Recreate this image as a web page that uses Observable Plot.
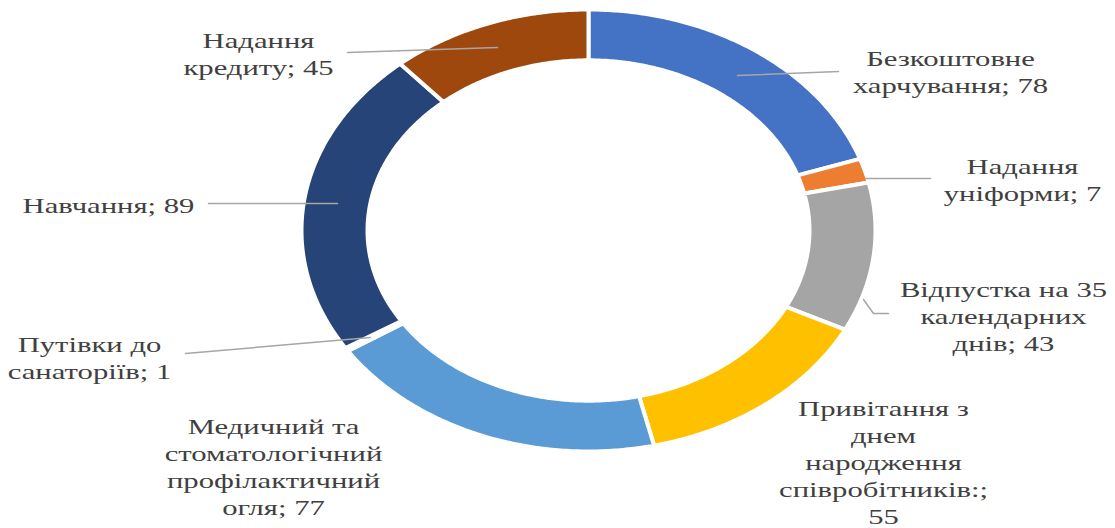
<!DOCTYPE html>
<html>
<head>
<meta charset="utf-8">
<script src="https://cdn.jsdelivr.net/npm/d3@7"></script>
<script src="https://cdn.jsdelivr.net/npm/@observablehq/plot@0.6"></script>
<style>
  html, body { margin: 0; padding: 0; background: #fff; }
  #chart svg { display: block; }
</style>
</head>
<body>
<div id="chart"></div>
<script>
// ---- data ----
const categories = [
  "Безкоштовне харчування",
  "Надання уніформи",
  "Відпустка на 35 календарних днів",
  "Привітання з днем народження співробітників:",
  "Медичний та стоматологічний профілактичний огля",
  "Путівки до санаторіїв",
  "Навчання",
  "Надання кредиту"
];
const values = [78, 7, 43, 55, 77, 1, 89, 45];
const colors = ["#4472C4", "#ED7D31", "#A5A5A5", "#FFC000", "#5B9BD5", "#70AD47", "#264478", "#9E480E"];
const labelLines = [
  "Безкоштовне\nхарчування",
  "Надання\nуніформи",
  "Відпустка на 35\nкалендарних\nднів",
  "Привітання з\nднем\nнародження\nспівробітників:",
  "Медичний та\nстоматологічний\nпрофілактичний\nогля",
  "Путівки до\nсанаторіїв",
  "Навчання",
  "Надання\nкредиту"
];
const labelJoin = ["; ", "; ", "; ", ";\n", "; ", "; ", "; ", "; "];

// ---- layout (pixel estimates of label centres and leader lines) ----
const CX = 588, CY = 230, RX = 287, RY = 221, INNER = 0.77;
const labelAt = [[950, 70], [1022, 178], [1003, 315], [883, 461], [273, 465], [89, 356], [108, 204], [258, 52]];
const leaderPts = [
  [[838, 71], [737, 75]],
  [[930, 178], [865, 178]],
  [[888, 313], [873, 313], [863, 299]],
  [],
  [],
  [[185, 353], [370, 337]],
  [[208, 203], [337, 203]],
  [[347, 52], [497, 47]]
];
const ux = (px) => (px - CX) / RX;
const uy = (py) => (CY - py) / RY;

// ---- donut polygons (unit circle, angles clockwise from top) ----
const total = d3.sum(values);
const slices = [];
let acc = 0;
values.forEach((v, i) => {
  const a0 = (acc / total) * 2 * Math.PI;
  acc += v;
  const a1 = (acc / total) * 2 * Math.PI;
  const n = Math.max(2, Math.ceil((a1 - a0) / 0.01));
  const pts = [];
  for (let k = 0; k <= n; k++) {
    const a = a0 + (a1 - a0) * k / n;
    pts.push([Math.sin(a), Math.cos(a)]);
  }
  for (let k = n; k >= 0; k--) {
    const a = a0 + (a1 - a0) * k / n;
    pts.push([INNER * Math.sin(a), INNER * Math.cos(a)]);
  }
  pts.push(pts[0]);
  pts.forEach(([x, y]) => slices.push({name: categories[i], x, y}));
});

const labels = categories.map((c, i) => ({
  name: c,
  text: labelLines[i] + labelJoin[i] + values[i],
  x: ux(labelAt[i][0]),
  y: uy(labelAt[i][1])
}));
const leaders = [];
leaderPts.forEach((pts, i) => pts.forEach(([px, py]) => leaders.push({name: categories[i], x: ux(px), y: uy(py)})));

const W = 1115, H = 528;
const chart = Plot.plot({
  width: W,
  height: H,
  margin: 0,
  x: {type: "linear", domain: [ux(0), ux(W)], range: [0, W], axis: null},
  y: {type: "linear", domain: [uy(H), uy(0)], range: [H, 0], axis: null},
  color: {domain: categories, range: colors},
  marks: [
    Plot.line(slices, {x: "x", y: "y", z: "name", fill: "name", stroke: "white", strokeWidth: 4, curve: "linear"}),
    Plot.line(leaders, {x: "x", y: "y", z: "name", stroke: "#a6a6a6", strokeWidth: 1.5, curve: "linear"}),
    Plot.text(labels, {
      x: "x", y: "y", text: "text",
      fontFamily: "Liberation Serif",
      fontSize: 21, lineHeight: 1.29, lineAnchor: "middle",
      textAnchor: "middle", fill: "#404040"
    })
  ]
});

// the reference image is stretched horizontally; stretch the label glyphs to match
const SX = 1.46;
d3.select(chart).selectAll("g[aria-label='text'] text").each(function () {
  const t = this.getAttribute("transform") || "";
  this.setAttribute("transform", t + ` scale(${SX},1)`);
});
document.getElementById("chart").appendChild(chart);
</script>
</body>
</html>
